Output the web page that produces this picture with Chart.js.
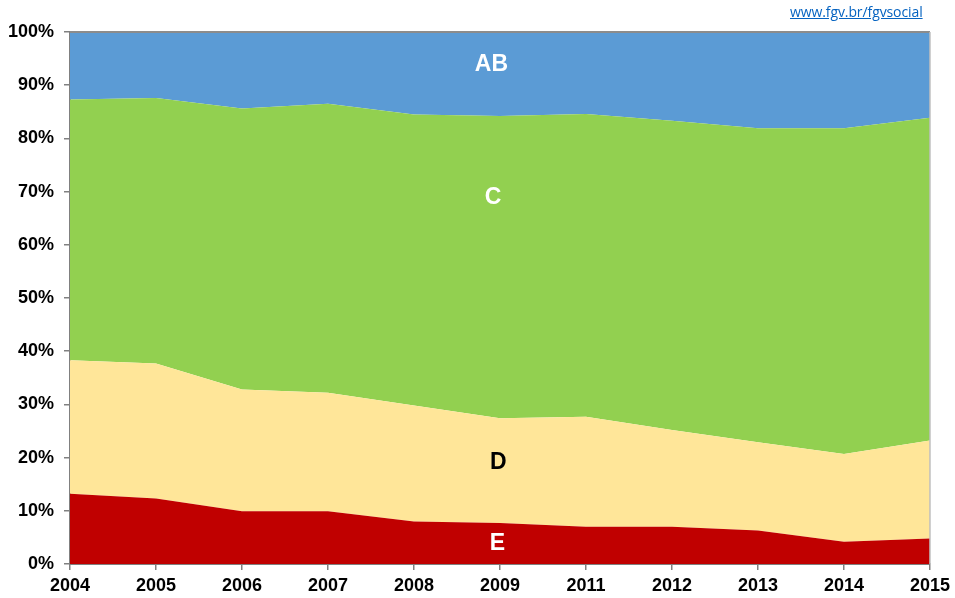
<!DOCTYPE html>
<html>
<head>
<meta charset="utf-8">
<script src="https://cdn.jsdelivr.net/npm/chart.js@4.4.1/dist/chart.umd.min.js"></script>
<style>
  html, body { margin: 0; padding: 0; background: #fff; }
  #wrap { position: relative; width: 955px; height: 598px; }
  #url { position: absolute; left: 790px; top: 2px; font-family: "Open Sans", "Liberation Sans", sans-serif; font-size: 14px; letter-spacing: -0.1px; color: #0563C1; text-decoration: underline; }
</style>
</head>
<body>
<div id="wrap">
  <canvas id="c" width="955" height="598"></canvas>
  <div id="url">www.fgv.br/fgvsocial</div>
</div>
<script>
const years = ['2004','2005','2006','2007','2008','2009','2011','2012','2013','2014','2015'];
const classE  = [13.2, 12.3, 9.9, 9.9, 8.0, 7.7, 7.0, 7.0, 6.3, 4.2, 4.8];
const classD  = [25.1, 25.4, 22.9, 22.3, 21.8, 19.7, 20.7, 18.2, 16.6, 16.5, 18.4];
const classC  = [49.0, 49.9, 52.8, 54.3, 54.7, 56.8, 56.9, 58.1, 59.0, 61.2, 60.7];
const classAB = [12.7, 12.4, 14.4, 13.5, 15.5, 15.8, 15.4, 16.7, 18.1, 18.1, 16.1];
const yTicks = [0,10,20,30,40,50,60,70,80,90,100];

// series labels placed in data coordinates: [text, xIndex, yValue, color]
const seriesLabels = [
  ['AB', 4.9, 93.9, '#ffffff'],
  ['C', 4.92, 68.9, '#ffffff'],
  ['D', 4.98, 19.1, '#000000'],
  ['E', 4.97, 3.9, '#ffffff']
];

const labelPlugin = {
  id: 'seriesLabels',
  afterDatasetsDraw(chart) {
    const {ctx, scales: {x, y}, chartArea: a} = chart;
    ctx.save();
    ctx.strokeStyle = '#8c8c8c';
    ctx.lineWidth = 2;
    ctx.beginPath();
    ctx.moveTo(a.left, a.top);
    ctx.lineTo(a.right, a.top);
    ctx.stroke();
    ctx.strokeStyle = '#bfbfbf';
    ctx.lineWidth = 1.5;
    ctx.beginPath();
    ctx.moveTo(a.right, a.top);
    ctx.lineTo(a.right, a.bottom);
    ctx.stroke();
    ctx.font = 'bold 23px "Liberation Sans", Arial, sans-serif';
    ctx.textAlign = 'center';
    ctx.textBaseline = 'middle';
    seriesLabels.forEach(([t, xi, yv, col]) => {
      ctx.fillStyle = col;
      ctx.fillText(t, x.getPixelForValue(xi), y.getPixelForValue(yv));
    });
    ctx.restore();
  }
};

const common = { pointRadius: 0, borderWidth: 0, tension: 0 };
const tickFont = { family: '"Liberation Sans", Arial, sans-serif', size: 18, weight: 'bold' };

new Chart(document.getElementById('c'), {
  type: 'line',
  data: {
    labels: years,
    datasets: [
      { label: 'E', data: classE, backgroundColor: '#C00000', borderColor: '#C00000', fill: 'origin', ...common },
      { label: 'D', data: classD, backgroundColor: '#FFE699', borderColor: '#FFE699', fill: '-1', ...common },
      { label: 'C', data: classC, backgroundColor: '#92D050', borderColor: '#92D050', fill: '-1', ...common },
      { label: 'AB', data: classAB, backgroundColor: '#5B9BD5', borderColor: '#5B9BD5', fill: '-1', ...common }
    ]
  },
  options: {
    responsive: false,
    animation: false,
    layout: { padding: { top: 32, right: 24, left: 0, bottom: 0 } },
    plugins: { legend: { display: false }, tooltip: { enabled: false } },
    elements: { line: { borderWidth: 0 } },
    scales: {
      x: {
        type: 'category',
        offset: false,
        grid: { display: true, drawOnChartArea: false, drawTicks: true, tickLength: 6, color: '#808080', lineWidth: 1.5 },
        border: { display: true, color: '#808080', width: 2 },
        ticks: { color: '#000', padding: 5, maxRotation: 0, autoSkip: false, font: tickFont },
        afterFit(s) { s.height = 34; }
      },
      y: {
        stacked: true,
        min: 0, max: 100,
        afterBuildTicks(s) { s.ticks = yTicks.map(v => ({ value: v })); },
        grid: { display: true, drawOnChartArea: false, drawTicks: true, tickLength: 6, color: '#808080', lineWidth: 1.5 },
        border: { display: true, color: '#808080', width: 2 },
        ticks: { color: '#000', padding: 10, callback: v => v + '%', font: tickFont },
        afterFit(s) { s.width = 70; }
      }
    }
  },
  plugins: [labelPlugin]
});
</script>
</body>
</html>
